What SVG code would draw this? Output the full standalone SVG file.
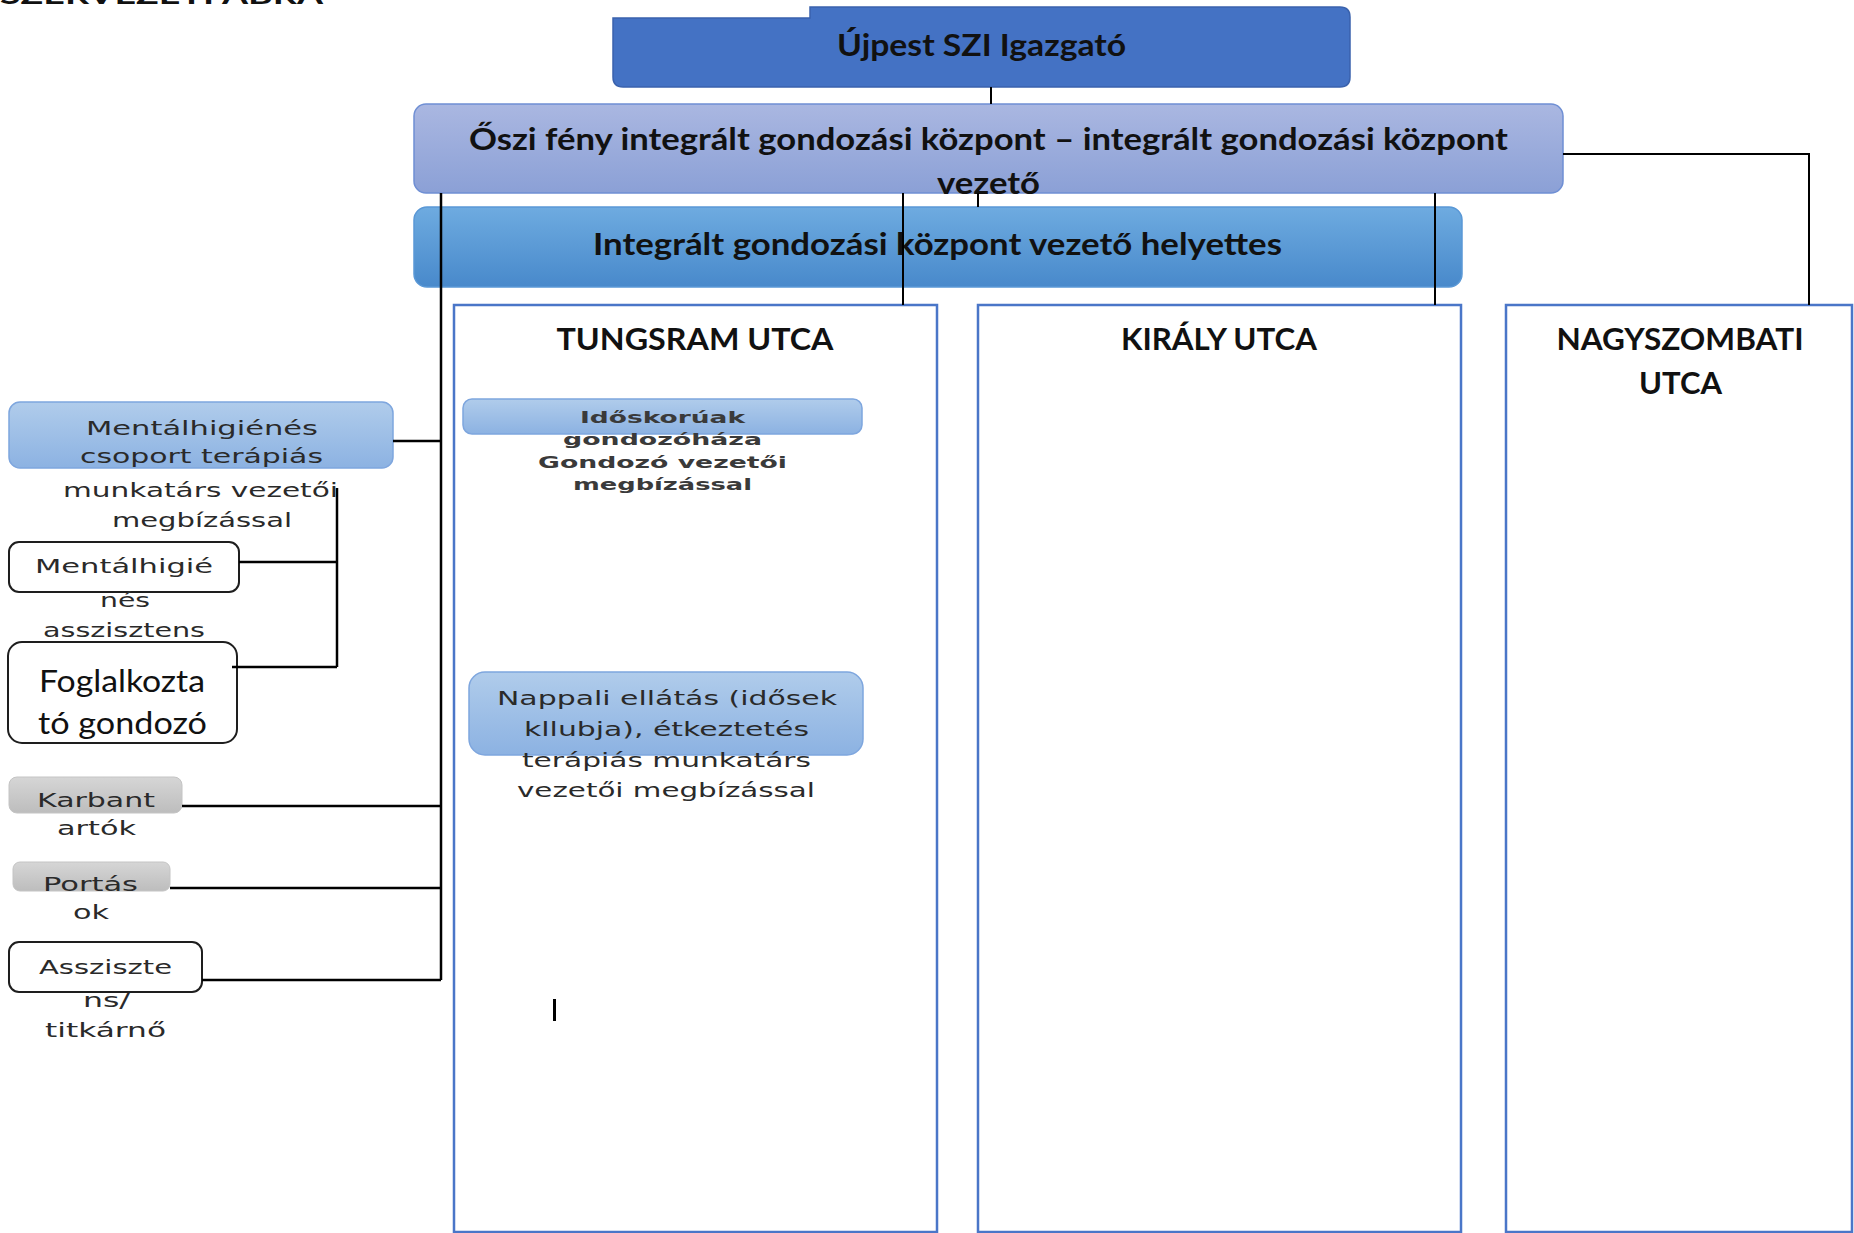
<svg xmlns="http://www.w3.org/2000/svg" width="1854" height="1233" viewBox="0 0 1854 1233">
<style>
.hdr{font-family:Lato,"Liberation Sans",sans-serif;font-weight:700;fill:#111;text-anchor:middle}
.cal{font-family:Lato,"Liberation Sans",sans-serif;fill:#111;text-anchor:middle}
.wide{font-family:"DejaVu Sans","Liberation Sans",sans-serif;fill:#2a2a2a;text-anchor:middle;font-size:20px}
.small{font-family:"DejaVu Sans","Liberation Sans",sans-serif;fill:#3a3a3a;text-anchor:middle;font-size:15px;font-weight:700}
.street{fill:#fff;stroke:#4a76c8;stroke-width:2.5}
.wbox{fill:#fff;stroke:#1e1e1e;stroke-width:2}
.lb{fill:url(#gLight);stroke:#7ea6de;stroke-width:1.5}
.gray{fill:url(#gGray);stroke:#c4c4c4;stroke-width:1}
.con{fill:none;stroke:#000;stroke-width:2.5}
.con2{fill:none;stroke:#000;stroke-width:2}
</style>
<defs>
<linearGradient id="gOszi" x1="0" y1="0" x2="0" y2="1"><stop offset="0" stop-color="#aab7e1"/><stop offset="1" stop-color="#8ba0d6"/></linearGradient>
<linearGradient id="gHely" x1="0" y1="0" x2="0" y2="1"><stop offset="0" stop-color="#6eabe0"/><stop offset="1" stop-color="#4889cb"/></linearGradient>
<linearGradient id="gLight" x1="0" y1="0" x2="0" y2="1"><stop offset="0" stop-color="#b0cceb"/><stop offset="1" stop-color="#8cb2e2"/></linearGradient>
<linearGradient id="gGray" x1="0" y1="0" x2="0" y2="1"><stop offset="0" stop-color="#d6d6d6"/><stop offset="1" stop-color="#bdbdbd"/></linearGradient>
</defs>
<rect width="1854" height="1233" fill="#fff"/>

<text x="0" y="4" class="hdr" style="text-anchor:start;font-size:24px" textLength="323" lengthAdjust="spacingAndGlyphs">SZERVEZETI ÁBRA</text>

<g id="igazgato">
<path d="M613,18 H810 V7 H1340 Q1350,7 1350,17 V77 Q1350,87 1340,87 H623 Q613,87 613,77 Z" fill="#4472c4" stroke="#3a62ad" stroke-width="1.5"/>
<text x="981.5" y="56" class="hdr" font-size="31" textLength="289" lengthAdjust="spacingAndGlyphs">Újpest SZI Igazgató</text>
</g>

<g id="oszi">
<rect x="414" y="104" width="1149" height="89" rx="12" fill="url(#gOszi)" stroke="#6f8fd4" stroke-width="1.5"/>
<text x="988.5" y="150" class="hdr" font-size="31" textLength="1039" lengthAdjust="spacingAndGlyphs">Őszi fény integrált gondozási központ – integrált gondozási központ</text>
<text x="988.5" y="194" class="hdr" font-size="31" textLength="103" lengthAdjust="spacingAndGlyphs">vezető</text>
</g>

<g id="helyettes">
<rect x="414" y="207" width="1048" height="80" rx="13" fill="url(#gHely)" stroke="#5a98d6" stroke-width="1.5"/>
<text x="937.5" y="255" class="hdr" font-size="31" textLength="689" lengthAdjust="spacingAndGlyphs">Integrált gondozási központ vezető helyettes</text>
</g>

<g id="tungsram">
<rect x="454" y="305" width="483" height="927" class="street"/>
<text x="695" y="350" class="hdr" font-size="31" textLength="277" lengthAdjust="spacingAndGlyphs">TUNGSRAM UTCA</text>
</g>

<g id="kiraly">
<rect x="978" y="305" width="483" height="927" class="street"/>
<text x="1219" y="350" class="hdr" font-size="31" textLength="196" lengthAdjust="spacingAndGlyphs">KIRÁLY UTCA</text>
</g>

<g id="nagyszombati">
<rect x="1506" y="305" width="346" height="927" class="street"/>
<text x="1680" y="350" class="hdr" font-size="31" textLength="247" lengthAdjust="spacingAndGlyphs">NAGYSZOMBATI</text>
<text x="1680.5" y="394" class="hdr" font-size="31" textLength="83" lengthAdjust="spacingAndGlyphs">UTCA</text>
</g>

<g id="idoskoruak">
<rect x="463" y="399" width="399" height="35" rx="9" class="lb"/>
<text x="662.5" y="423" class="small" textLength="165" lengthAdjust="spacingAndGlyphs">Időskorúak</text>
<text x="662.5" y="445" class="small" textLength="199" lengthAdjust="spacingAndGlyphs">gondozóháza</text>
<text x="662.5" y="468" class="small" textLength="249" lengthAdjust="spacingAndGlyphs">Gondozó vezetői</text>
<text x="662.5" y="490" class="small" textLength="179" lengthAdjust="spacingAndGlyphs">megbízással</text>
</g>

<g id="nappali">
<rect x="469" y="672" width="394" height="83" rx="16" class="lb"/>
<text x="667" y="705" class="wide" textLength="340" lengthAdjust="spacingAndGlyphs">Nappali ellátás (idősek</text>
<text x="666.5" y="736" class="wide" textLength="285" lengthAdjust="spacingAndGlyphs">kllubja), étkeztetés</text>
<text x="666.5" y="767" class="wide" textLength="289" lengthAdjust="spacingAndGlyphs">terápiás munkatárs</text>
<text x="666" y="797" class="wide" textLength="298" lengthAdjust="spacingAndGlyphs">vezetői megbízással</text>
</g>

<rect x="553" y="999" width="3" height="22" fill="#000"/>

<g id="mentalhigienes">
<rect x="9" y="402" width="384" height="66" rx="11" class="lb"/>
<text x="202" y="435" class="wide" textLength="232" lengthAdjust="spacingAndGlyphs">Mentálhigiénés</text>
<text x="201.5" y="463" class="wide" textLength="243" lengthAdjust="spacingAndGlyphs">csoport terápiás</text>
<text x="200.5" y="497" class="wide" textLength="275" lengthAdjust="spacingAndGlyphs">munkatárs vezetői</text>
<text x="202" y="527" class="wide" textLength="180" lengthAdjust="spacingAndGlyphs">megbízással</text>
</g>

<g id="mentalhigienes-asszisztens">
<rect x="9" y="542" width="230" height="50" rx="10" class="wbox"/>
<text x="124" y="573" class="wide" textLength="178" lengthAdjust="spacingAndGlyphs">Mentálhigié</text>
<text x="125" y="607" class="wide" textLength="50" lengthAdjust="spacingAndGlyphs">nés</text>
<text x="124" y="637" class="wide" textLength="162" lengthAdjust="spacingAndGlyphs">asszisztens</text>
</g>

<g id="foglalkoztato">
<rect x="8" y="642" width="229" height="101" rx="14" class="wbox"/>
<text x="122" y="692" class="cal" font-size="31" textLength="166" lengthAdjust="spacingAndGlyphs">Foglalkozta</text>
<text x="122.5" y="734" class="cal" font-size="31" textLength="169" lengthAdjust="spacingAndGlyphs">tó gondozó</text>
</g>

<g id="karbantartok">
<rect x="9" y="777" width="173" height="36" rx="8" class="gray"/>
<text x="96" y="807" class="wide" textLength="118" lengthAdjust="spacingAndGlyphs">Karbant</text>
<text x="96.5" y="835" class="wide" textLength="79" lengthAdjust="spacingAndGlyphs">artók</text>
</g>

<g id="portasok">
<rect x="13" y="862" width="157" height="29" rx="7" class="gray"/>
<text x="90.5" y="891" class="wide" textLength="95" lengthAdjust="spacingAndGlyphs">Portás</text>
<text x="91" y="919" class="wide" textLength="36" lengthAdjust="spacingAndGlyphs">ok</text>
</g>

<g id="asszisztens-titkarno">
<rect x="9" y="942" width="193" height="50" rx="10" class="wbox"/>
<text x="105.5" y="974" class="wide" textLength="133" lengthAdjust="spacingAndGlyphs">Assziszte</text>
<text x="106.5" y="1007" class="wide" textLength="47" lengthAdjust="spacingAndGlyphs">ns/</text>
<text x="105.5" y="1037" class="wide" textLength="121" lengthAdjust="spacingAndGlyphs">titkárnő</text>
</g>

<g id="connectors">
<path class="con2" d="M991,87 V104"/>
<path class="con2" d="M978,193 V207"/>
<path class="con2" d="M1563,154 H1809 V305"/>
<path class="con2" d="M903,193 V305"/>
<path class="con2" d="M1435,193 V305"/>
<path class="con" d="M441,193 V980"/>
<path class="con" d="M393,441 H441"/>
<path class="con" d="M337,488 V667"/>
<path class="con" d="M239,562 H337"/>
<path class="con" d="M232,667 H337"/>
<path class="con" d="M182,806 H441"/>
<path class="con" d="M170,888 H441"/>
<path class="con" d="M202,980 H441"/>
</g>
</svg>
